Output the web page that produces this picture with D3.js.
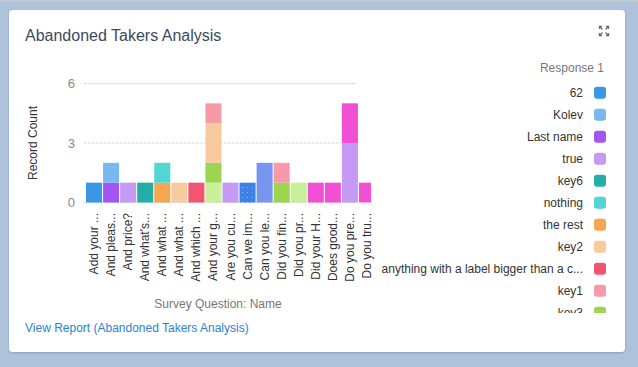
<!DOCTYPE html>
<html>
<head>
<meta charset="utf-8">
<script src="https://cdn.jsdelivr.net/npm/d3@7"></script>
<style>
  html, body { margin: 0; padding: 0; background: #afc2dc; overflow: hidden; }
  svg { display: block; font-family: "Liberation Sans", Arial, sans-serif; }
</style>
</head>
<body>
<div id="vis"></div>
<script>
// question labels (already truncated like the widget shows them)
const questions = ["Add your ...", "And pleas...", "And price?", "And what's...", "And what ...",
  "And what ...", "And which ...", "And your g...", "Are you cu...", "Can we im...",
  "Can you le...", "Did you fin...", "Did you pr...", "Did your H...", "Does good...",
  "Do you pre...", "Do you tru..."];

// legend order of the responses
const responses = ["62", "Kolev", "Last name", "true", "key6", "nothing", "the rest", "key2",
  "anything with a label bigger than a c...", "key1", "key3", "key4", "key5", "key7", "other"];

const colors = ["#3a97e7", "#7ab8f0", "#a155f2", "#c49af5", "#25ada7", "#51d6d0", "#f6a553", "#f9ca9d",
  "#f25572", "#f79aa8", "#9ad64f", "#c8f096", "url(#dots)", "#7896f0", "#f150d6"];

// order the segments are stacked in (bottom first)
const stackOrder = ["62", "Last name", "Kolev", "true", "key6", "the rest", "nothing", "key4", "key3",
  "key2", "anything with a label bigger than a c...", "key1", "key5", "key7", "other"];

// record counts per response, one value per question
const counts = {
  "62":        [1,0,0,0,0,0,0,0,0,0,0,0,0,0,0,0,0],
  "Kolev":     [0,1,0,0,0,0,0,0,0,0,0,0,0,0,0,0,0],
  "Last name": [0,1,0,0,0,0,0,0,0,0,0,0,0,0,0,0,0],
  "true":      [0,0,1,0,0,0,0,0,1,0,0,0,0,0,0,3,0],
  "key6":      [0,0,0,1,0,0,0,0,0,0,0,0,0,0,0,0,0],
  "nothing":   [0,0,0,0,1,0,0,0,0,0,0,0,0,0,0,0,0],
  "the rest":  [0,0,0,0,1,0,0,0,0,0,0,0,0,0,0,0,0],
  "key2":      [0,0,0,0,0,1,0,2,0,0,0,0,0,0,0,0,0],
  "anything with a label bigger than a c...": [0,0,0,0,0,0,1,0,0,0,0,0,0,0,0,0,0],
  "key1":      [0,0,0,0,0,0,0,1,0,0,0,1,0,0,0,0,0],
  "key3":      [0,0,0,0,0,0,0,1,0,0,0,1,0,0,0,0,0],
  "key4":      [0,0,0,0,0,0,0,1,0,0,0,0,1,0,0,0,0],
  "key5":      [0,0,0,0,0,0,0,0,0,1,0,0,0,0,0,0,0],
  "key7":      [0,0,0,0,0,0,0,0,0,0,2,0,0,0,0,0,0],
  "other":     [0,0,0,0,0,0,0,0,0,0,0,0,0,1,1,2,1]
};

const yTicks = [0, 3, 6];

const W = 638, H = 367;
const svg = d3.select("#vis").append("svg").attr("width", W).attr("height", H);

const defs = svg.append("defs");
const pat = defs.append("pattern").attr("id", "dots")
  .attr("patternUnits", "userSpaceOnUse").attr("width", 5).attr("height", 5);
pat.append("rect").attr("width", 5).attr("height", 5).attr("fill", "#3d80e6");
pat.append("rect").attr("x", 2).attr("y", 2).attr("width", 1).attr("height", 1).attr("fill", "#8db3f3");

defs.append("clipPath").attr("id", "plotClip")
  .append("rect").attr("x", 80).attr("y", 60).attr("width", 291).attr("height", 150);
defs.append("clipPath").attr("id", "legendClip")
  .append("rect").attr("x", 370).attr("y", 80).attr("width", 250).attr("height", 233);

const shadow = defs.append("filter").attr("id", "shadow").attr("x", "-5%").attr("y", "-5%")
  .attr("width", "110%").attr("height", "110%");
shadow.append("feDropShadow").attr("dx", 0).attr("dy", 1).attr("stdDeviation", 1)
  .attr("flood-color", "#000").attr("flood-opacity", 0.2);

// bottom of card above
svg.append("rect").attr("x", 0).attr("y", 0).attr("width", W).attr("height", 2).attr("fill", "#c3c9d1");

// card
svg.append("rect").attr("x", 9).attr("y", 10).attr("width", 616).attr("height", 342)
  .attr("rx", 4).attr("fill", "#fff").attr("filter", "url(#shadow)");

svg.append("text").attr("x", 25).attr("y", 41)
  .attr("font-size", "16px").attr("fill", "#3b4a5e")
  .text("Abandoned Takers Analysis");

// expand icon
const ic = svg.append("g").attr("transform", "translate(604,31)")
  .attr("stroke", "#6b6b6b").attr("stroke-width", 1.3).attr("fill", "none");
[[-1, -1], [1, -1], [-1, 1], [1, 1]].forEach(([sx, sy]) => {
  ic.append("path").attr("d", `M${sx * 1.5},${sy * 1.5} L${sx * 4.5},${sy * 4.5}`);
  ic.append("path").attr("d", `M${sx * 2},${sy * 4.5} L${sx * 4.5},${sy * 4.5} L${sx * 4.5},${sy * 2}`);
});

// scales
const x = d3.scaleBand()
  .domain(d3.range(questions.length))
  .range([86, 375])
  .paddingInner(0.06);

const y = d3.scaleLinear().domain([0, 6]).range([202.5, 83.5]);

// gridlines
svg.append("g").selectAll("line").data(yTicks).join("line")
  .attr("x1", 84).attr("x2", 355)
  .attr("y1", d => y(d)).attr("y2", d => y(d))
  .attr("stroke", "#d3dbe3").attr("stroke-dasharray", "3,1");

// y axis
const yAxis = d3.axisLeft(y).tickValues(yTicks).tickFormat(d3.format("d")).tickSize(0).tickPadding(0);
svg.append("g").attr("transform", "translate(75,0)").call(yAxis)
  .call(g => g.select(".domain").remove())
  .call(g => g.selectAll("text").attr("font-size", "13px").attr("fill", "#8a8a8a")
    .attr("font-family", "Liberation Sans, Arial, sans-serif"));

svg.append("text")
  .attr("transform", "translate(37,143) rotate(-90)")
  .attr("text-anchor", "middle").attr("font-size", "12px").attr("fill", "#333")
  .text("Record Count");

// stacked bars
const table = questions.map((q, i) => {
  const row = {idx: i};
  responses.forEach(r => row[r] = counts[r][i]);
  return row;
});
const stacked = d3.stack().keys(stackOrder)(table);
const colorOf = d3.scaleOrdinal().domain(responses).range(colors);

svg.append("g").attr("clip-path", "url(#plotClip)")
  .selectAll("g").data(stacked).join("g")
  .attr("fill", s => colorOf(s.key))
  .selectAll("rect").data(s => s.filter(d => d[1] > d[0])).join("rect")
  .attr("x", d => x(d.data.idx))
  .attr("width", x.bandwidth())
  .attr("y", d => y(d[1]))
  .attr("height", d => y(d[0]) - y(d[1]));

// x axis labels
const xAxis = d3.axisBottom(x).tickSize(0).tickFormat(i => questions[i]);
svg.append("g").attr("transform", "translate(0,213)").call(xAxis)
  .call(g => g.select(".domain").remove())
  .call(g => g.selectAll("text")
    .attr("font-size", "12px").attr("fill", "#333")
    .attr("font-family", "Liberation Sans, Arial, sans-serif")
    .attr("text-anchor", "end").attr("dy", null).attr("y", 0).attr("x", 0)
    .attr("dominant-baseline", "central")
    .attr("transform", "rotate(-90)"));

svg.append("text").attr("x", 218).attr("y", 308)
  .attr("text-anchor", "middle").attr("font-size", "12px").attr("fill", "#777")
  .text("Survey Question: Name");

svg.append("text").attr("x", 25).attr("y", 332)
  .attr("font-size", "12px").attr("fill", "#2a83d9")
  .text("View Report (Abandoned Takers Analysis)");

// legend (scrollable box, only the rows that fit are shown)
svg.append("text").attr("x", 604).attr("y", 72)
  .attr("text-anchor", "end").attr("font-size", "12px").attr("fill", "#777")
  .text("Response 1");

const legendTop = 92.7, legendStep = 22, legendBottom = 313;
const shown = responses.filter((r, i) => legendTop + i * legendStep - 6 < legendBottom);
const legend = svg.append("g").attr("clip-path", "url(#legendClip)")
  .selectAll("g").data(shown).join("g")
  .attr("transform", (d, i) => `translate(0,${legendTop + i * legendStep})`);
legend.append("rect").attr("x", 594).attr("y", -6).attr("width", 12).attr("height", 12)
  .attr("rx", 3).attr("fill", d => colorOf(d));
legend.append("text").attr("x", 583).attr("dy", "0.35em")
  .attr("text-anchor", "end").attr("font-size", "12px").attr("fill", "#333")
  .text(d => d);
</script>
</body>
</html>
